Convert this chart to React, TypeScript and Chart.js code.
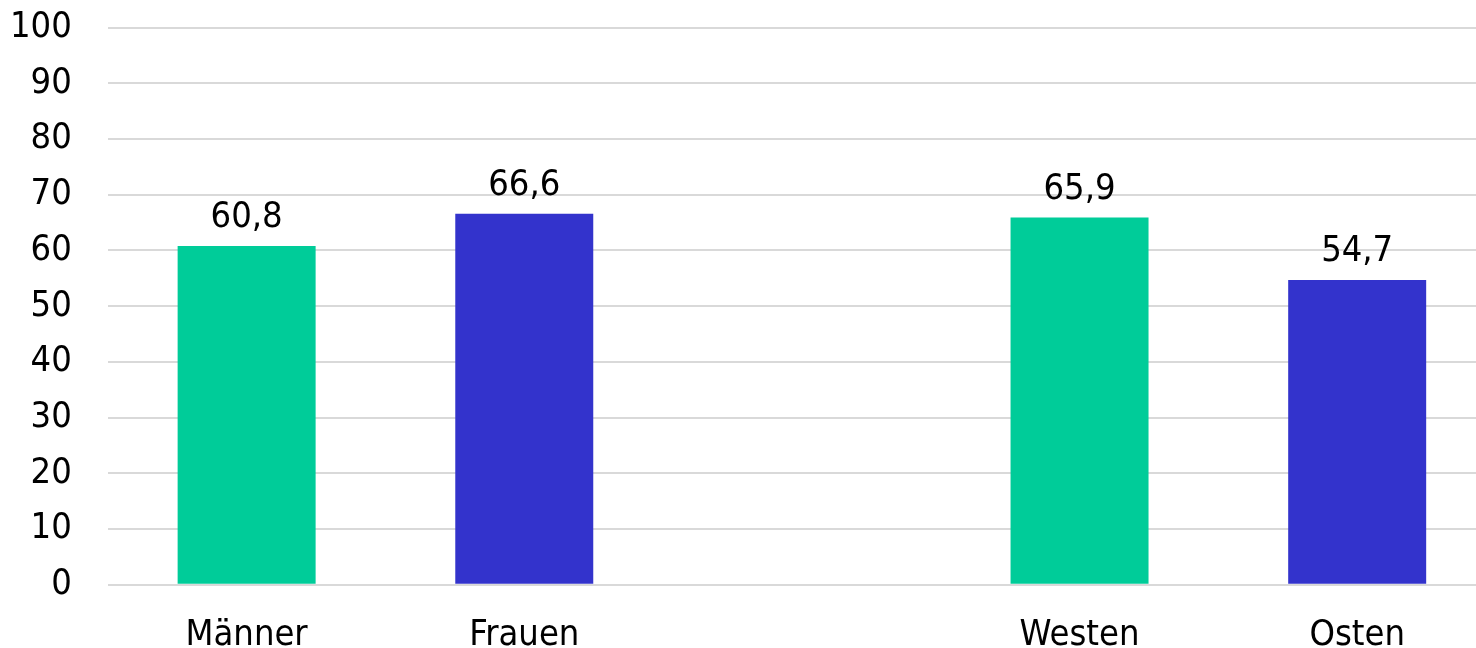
import React, { useEffect, useRef } from "react";
import { Chart, registerables } from "chart.js";

Chart.register(...registerables);

const categories = ["Männer", "Frauen", "", "Westen", "Osten"];
const values: (number | null)[] = [60.8, 66.6, null, 65.9, 54.7];
const barColors = ["#00CC99", "#3333CC", "#00CC99", "#00CC99", "#3333CC"];
const yTicks = [0, 10, 20, 30, 40, 50, 60, 70, 80, 90, 100];

const FONT = "'DejaVu Sans Condensed', 'DejaVu Sans', sans-serif";
const FONT_SIZE = 36;

const valueLabels = {
  id: "valueLabels",
  afterDatasetsDraw(chart: any) {
    const ctx = chart.ctx;
    const meta = chart.getDatasetMeta(0);
    ctx.save();
    ctx.font = `${FONT_SIZE}px ${FONT}`;
    ctx.fillStyle = "#000000";
    ctx.textAlign = "center";
    ctx.textBaseline = "alphabetic";
    meta.data.forEach((bar: any, i: number) => {
      const v = values[i];
      if (v == null) return;
      ctx.fillText(v.toFixed(1).replace(".", ","), bar.x, bar.y - 19);
    });
    ctx.restore();
  },
};

export default function App() {
  const ref = useRef<HTMLCanvasElement>(null);
  useEffect(() => {
    if (!ref.current) return;
    const chart = new Chart(ref.current, {
      type: "bar",
      data: {
        labels: categories,
        datasets: [
          {
            data: values,
            backgroundColor: barColors,
            categoryPercentage: 1,
            barPercentage: 0.497,
          },
        ],
      },
      options: {
        responsive: false,
        animation: false,
        layout: { padding: { left: 12, top: 6, right: 0, bottom: 13 } },
        plugins: { legend: { display: false }, tooltip: { enabled: false } },
        scales: {
          x: {
            grid: { display: false, drawTicks: false },
            border: { display: false },
            ticks: {
              color: "#000000",
              font: { family: FONT, size: FONT_SIZE },
              padding: 29,
              maxRotation: 0,
              autoSkip: false,
            },
          },
          y: {
            min: 0,
            max: 100,
            afterBuildTicks: (axis: any) => {
              axis.ticks = yTicks.map((v) => ({ value: v }));
            },
            grid: { color: "#d9d9d9", lineWidth: 2, drawTicks: false },
            border: { display: false },
            ticks: {
              color: "#000000",
              font: { family: FONT, size: FONT_SIZE },
              padding: 36,
            },
          },
        },
      },
      plugins: [valueLabels],
    });
    return () => chart.destroy();
  }, []);
  return (
    <div
      style={{
        position: "fixed",
        left: 0,
        top: 0,
        width: 1476,
        height: 648,
        overflow: "hidden",
        background: "#ffffff",
      }}
    >
      <canvas
        ref={ref}
        width={1534}
        height={729}
        style={{ display: "block", position: "absolute", left: -38, top: -30 }}
      />
    </div>
  );
}
